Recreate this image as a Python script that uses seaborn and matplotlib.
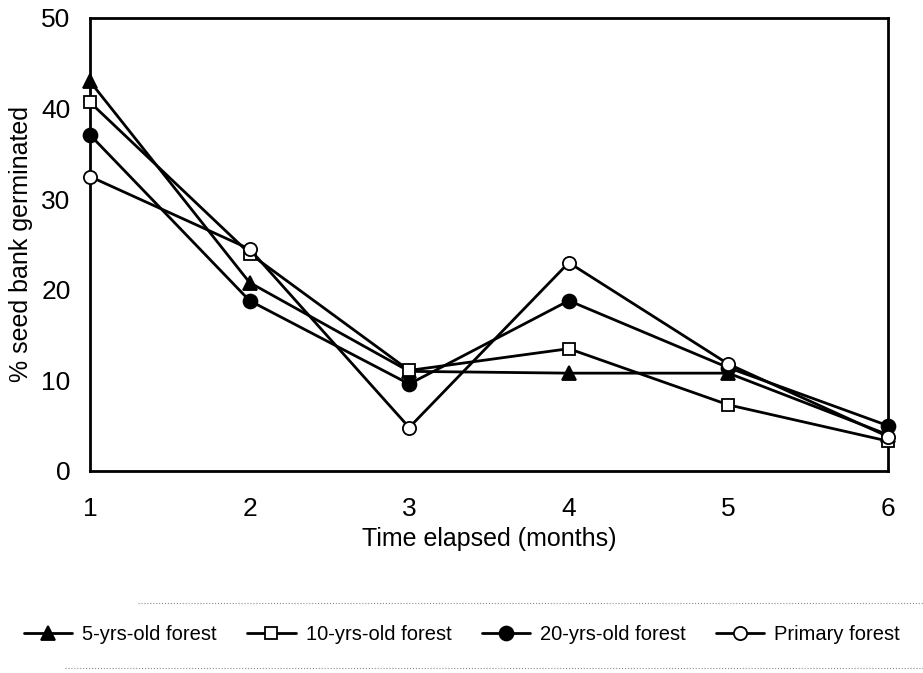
import numpy as np
import pandas as pd
import matplotlib
matplotlib.use("Agg")
import matplotlib.pyplot as plt
import seaborn as sns
from matplotlib.lines import Line2D

# values
months = [1, 2, 3, 4, 5, 6]
forest_5yr = [43.0, 20.8, 11.0, 10.8, 10.8, 4.0]
forest_10yr = [40.7, 24.0, 11.1, 13.5, 7.3, 3.3]
forest_20yr = [37.1, 18.8, 9.6, 18.8, 11.4, 5.0]
forest_primary = [32.5, 24.5, 4.8, 23.0, 11.8, 3.8]
series_names = ["5-yrs-old forest", "10-yrs-old forest", "20-yrs-old forest", "Primary forest"]

df = pd.DataFrame({
    "month": months * 4,
    "pct": forest_5yr + forest_10yr + forest_20yr + forest_primary,
    "forest": np.repeat(series_names, len(months)),
})

sns.set_style("white")
plt.rcParams["font.family"] = ["Liberation Sans", "DejaVu Sans"]
plt.rcParams["text.color"] = "black"
plt.rcParams["axes.labelcolor"] = "black"
plt.rcParams["xtick.color"] = "black"
plt.rcParams["ytick.color"] = "black"

fig = plt.figure(figsize=(9.23, 6.73), dpi=100)
ax = fig.add_axes([90 / 923, 1 - 471 / 673, (888 - 90) / 923, (471 - 18) / 673])

marker_styles = {
    "5-yrs-old forest": dict(marker="^", ms=10, mfc="black"),
    "10-yrs-old forest": dict(marker="s", ms=8.5, mfc="white"),
    "20-yrs-old forest": dict(marker="o", ms=10, mfc="black"),
    "Primary forest": dict(marker="o", ms=9.5, mfc="white"),
}

for name in series_names:
    sns.lineplot(data=df[df["forest"] == name], x="month", y="pct", ax=ax,
                 color="black", lw=2, label=name, mec="black", mew=1.3,
                 clip_on=False, zorder=3, **marker_styles[name])

ax.set_xlim(1, 6)
ax.set_ylim(0, 50)
ax.set_xticks(months)
ax.set_yticks([0, 10, 20, 30, 40, 50])
ax.tick_params(axis="both", length=0, labelsize=19)
ax.tick_params(axis="x", pad=19)
ax.tick_params(axis="y", pad=14)
for sp in ax.spines.values():
    sp.set_linewidth(2)
    sp.set_color("black")

ax.set_xlabel("Time elapsed (months)", fontsize=18, labelpad=4)
ax.set_ylabel("% seed bank germinated", fontsize=18)
ax.yaxis.set_label_coords(-0.072, 0.5)

handles, labels = ax.get_legend_handles_labels()
ax.get_legend().remove()
fig.legend(handles, labels, loc="center", bbox_to_anchor=(462 / 923, 1 - 635 / 673),
           ncol=4, frameon=False, fontsize=14.5, handlelength=2.4,
           handletextpad=0.5, columnspacing=1.5)

# faint dotted rules above and below the legend, as in the scan
fig.add_artist(Line2D([0.15, 1.0], [1 - 603 / 673] * 2, transform=fig.transFigure,
                      color="0.55", lw=0.8, ls=":"))
fig.add_artist(Line2D([0.07, 1.0], [1 - 668 / 673] * 2, transform=fig.transFigure,
                      color="0.55", lw=0.8, ls=":"))

fig.savefig("out.png", dpi=100)
